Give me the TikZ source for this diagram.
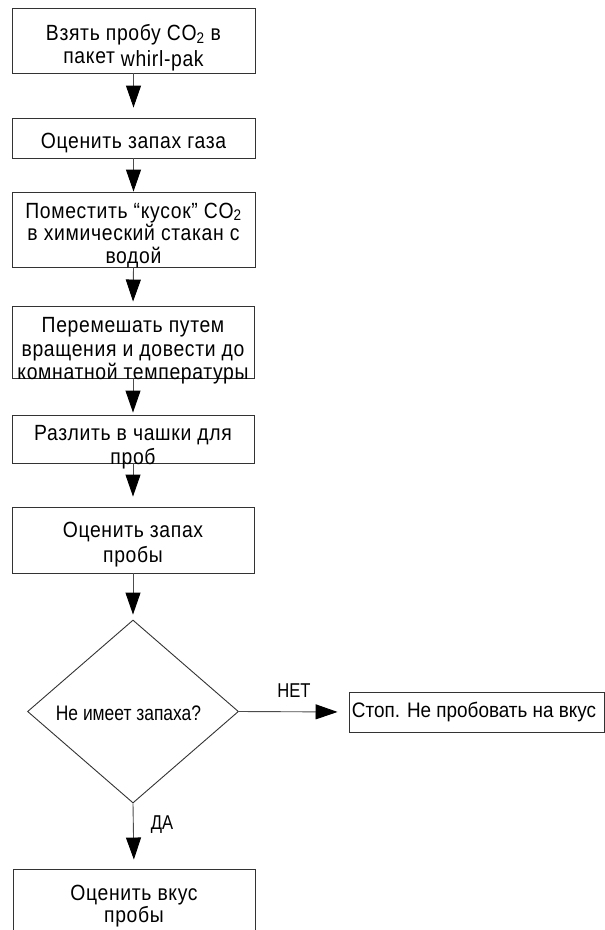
\documentclass[tikz,border=0pt]{standalone}
\usepackage{fontspec}
\setmainfont[FakeStretch=0.88,LetterSpace=3]{Liberation Sans}
\newfontfamily\stopfont[FakeStretch=0.9]{Liberation Sans}
\newfontfamily\lblfont[FakeStretch=0.83]{Liberation Sans}
\usetikzlibrary{arrows.meta,shapes.geometric}
\begin{document}
\begin{tikzpicture}[x=1pt,y=-1pt,
  box/.style={draw=black!80, line width=0.9pt, minimum width=243pt, inner sep=0pt},
  txt/.style={align=center, inner sep=0pt, anchor=base, font=\fontsize{22pt}{23pt}\selectfont},
  arr/.style={draw=black!70, line width=0.9pt, -{Triangle[length=22pt,width=15pt,black]}}]
\fill[white] (0,0) rectangle (605,930);
\path[use as bounding box, clip] (0,0) rectangle (605,930);
% boxes
\node[box, minimum height=65pt] (b1) at (133.5,40.5) {};
\node[txt, font=\fontsize{22pt}{23.3pt}\selectfont] (t1) at (133.5,63.3) {Взять пробу CO\textsubscript{2} в\\пакет \raisebox{-3pt}{whirl-pak}};
\node[box, minimum height=40pt] (b2) at (133.5,138) {};
\node[txt] (t2) at (133.5,148) {Оценить запах газа};
\node[box, minimum height=75pt] (b3) at (133.5,229.5) {};
\node[txt, font=\fontsize{22pt}{22.5pt}\selectfont] (t3) at (133.5,263) {Поместить “кусок” CO\raisebox{1pt}{\textsubscript{2}}\\в химический стакан с\\водой};
\node[box, minimum height=72pt, minimum width=242pt] (b4) at (133,342) {};
\node[txt, font=\fontsize{22pt}{23.5pt}\selectfont] (t4) at (133,379.5) {Перемешать путем\\вращения и довести до\\комнатной температуры};
\node[box, minimum height=48pt, minimum width=242pt] (b5) at (133,439) {};
\node[txt, font=\fontsize{22pt}{24pt}\selectfont] (t5) at (133,464) {Разлить в чашки для\\проб};
\node[box, minimum height=66pt, minimum width=242pt] (b6) at (133,540) {};
\node[txt, font=\fontsize{22pt}{24.5pt}\selectfont] (t6) at (133,562) {Оценить запах\\пробы};
\node[draw=black!80, line width=0.9pt, diamond, minimum width=211pt, minimum height=183pt, inner sep=0pt] (d) at (133,711.5) {};
\node[txt, font=\lblfont\fontsize{21pt}{23pt}\selectfont] (td) at (128.5,720) {Не имеет запаха?};
\node[box, minimum height=40pt, minimum width=255pt] (s) at (476.5,712) {};
\node[txt, font=\stopfont\fontsize{21pt}{23pt}\selectfont] (ts) at (474,717) {Стоп. Не пробовать на вкус};
\node[box, minimum height=75pt, minimum width=242pt] (b7) at (134,906.5) {};
\node[txt, font=\fontsize{22pt}{22pt}\selectfont] (t7) at (134,922) {Оценить вкус\\пробы};
% labels
\node[txt, font=\lblfont\fontsize{20pt}{22pt}\selectfont] (lno) at (294,697) {НЕТ};
\node[txt, font=\lblfont\fontsize{20pt}{22pt}\selectfont] (lyes) at (162,829) {ДА};
% connectors
\draw[arr, shorten >=10pt] (b1.south) -- (b2.north);
\draw[arr] (b2.south) -- (b3.north);
\draw[arr, shorten >=4pt] (b3.south) -- (b4.north);
\draw[arr, shorten >=2pt] (b4.south) -- (b5.north);
\draw[arr, shorten >=10pt] (b5.south) -- (b6.north);
\draw[arr, shorten >=5pt] (b6.south) -- (d.north);
\draw[arr, shorten >=11pt] (d.east) -- (s.west);
\draw[arr, shorten >=9pt] (d.south) -- (b7.north);
\end{tikzpicture}
\end{document}
